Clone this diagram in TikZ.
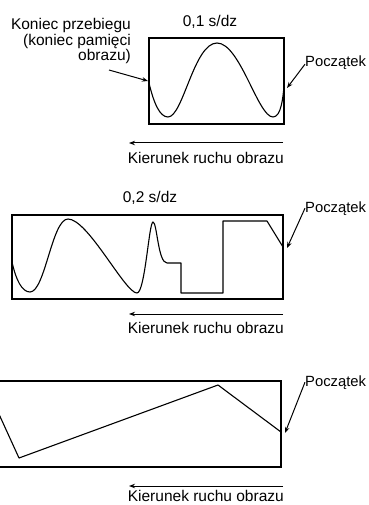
\documentclass[tikz,border=0pt]{standalone}
\usepackage{fontspec}
\setmainfont{Liberation Sans}
\usetikzlibrary{arrows.meta}
\begin{document}
\begin{tikzpicture}[x=1pt,y=-1pt,
  lbl/.style={inner sep=0pt,font=\fontsize{15.5}{11.8}\selectfont},
  startlbl/.style={inner sep=0pt,font=\fontsize{14.8}{14}\selectfont,anchor=base west},
  frame/.style={line width=1.1pt},
  wave/.style={line width=1.1pt,line join=round},
  ptr/.style={line width=1pt,-{Stealth[length=6pt,width=4.5pt]}}]
\useasboundingbox (0,0) rectangle (368,505);
% ---------- panel 1
\draw[frame] (149,38) rectangle (284,124);
\node[lbl,anchor=base] (t1) at (210,27) {0,1 s/dz};
\node[lbl,anchor=base east,align=right] (k1) at (131,60.5) {Koniec przebiegu\\(koniec pamięci\\obrazu)};
\coordinate (kend) at (148,81);
\coordinate (kstart) at (109,70);
\draw[ptr] (kstart) -- (kend);
\draw[wave] (149,83) .. controls (154,104) and (160,117) .. (168,117)
  .. controls (183,117) and (194,43) .. (217,43)
  .. controls (240,43) and (258,117) .. (273,117)
  .. controls (281,117) and (283,98) .. (284,86);
\node[startlbl] (p1) at (305,67) {Początek};
\coordinate (p1tip) at (287,88);
\draw[ptr] (p1.west) ++(0,1) -- (p1tip);
\coordinate (a1s) at (283,143);
\coordinate (a1e) at (129,143);
\draw[ptr] (a1s) -- (a1e);
\node[lbl,anchor=base east] (d1) at (284,164) {Kierunek ruchu obrazu};
% ---------- panel 2
\node[lbl,anchor=base] (t2) at (150,202) {0,2 s/dz};
\draw[frame] (12,215) rectangle (283,299);
\draw[wave] (12,262) .. controls (16,280) and (22,292) .. (30,292)
  .. controls (45,292) and (52,219) .. (68,219)
  .. controls (88,219) and (125,293) .. (137,293)
  .. controls (145,293) and (149,222) .. (153,222)
  .. controls (157,222) and (158,263) .. (167,263)
  -- (181,263) -- (181,293) -- (223,293) -- (223,221) -- (267,221) -- (283,247);
\node[startlbl] (p2) at (305,212) {Początek};
\coordinate (p2tip) at (287,248);
\draw[ptr] (p2.west) -- (p2tip);
\coordinate (a2s) at (283,314);
\coordinate (a2e) at (129,314);
\draw[ptr] (a2s) -- (a2e);
\node[lbl,anchor=base east] (d2) at (284,333) {Kierunek ruchu obrazu};
% ---------- panel 3
\draw[frame] (-2,381) -- (281,381) -- (281,467) -- (-2,467);
\draw[wave] (-2,412) -- (19,458) -- (218,385) -- (281,432);
\node[startlbl] (p3) at (305,386) {Początek};
\coordinate (p3tip) at (285,433);
\draw[ptr] (p3.west) -- (p3tip);
\coordinate (a3s) at (283,486);
\coordinate (a3e) at (129,486);
\draw[ptr] (a3s) -- (a3e);
\node[lbl,anchor=base east] (d3) at (284,501) {Kierunek ruchu obrazu};
\end{tikzpicture}
\end{document}
